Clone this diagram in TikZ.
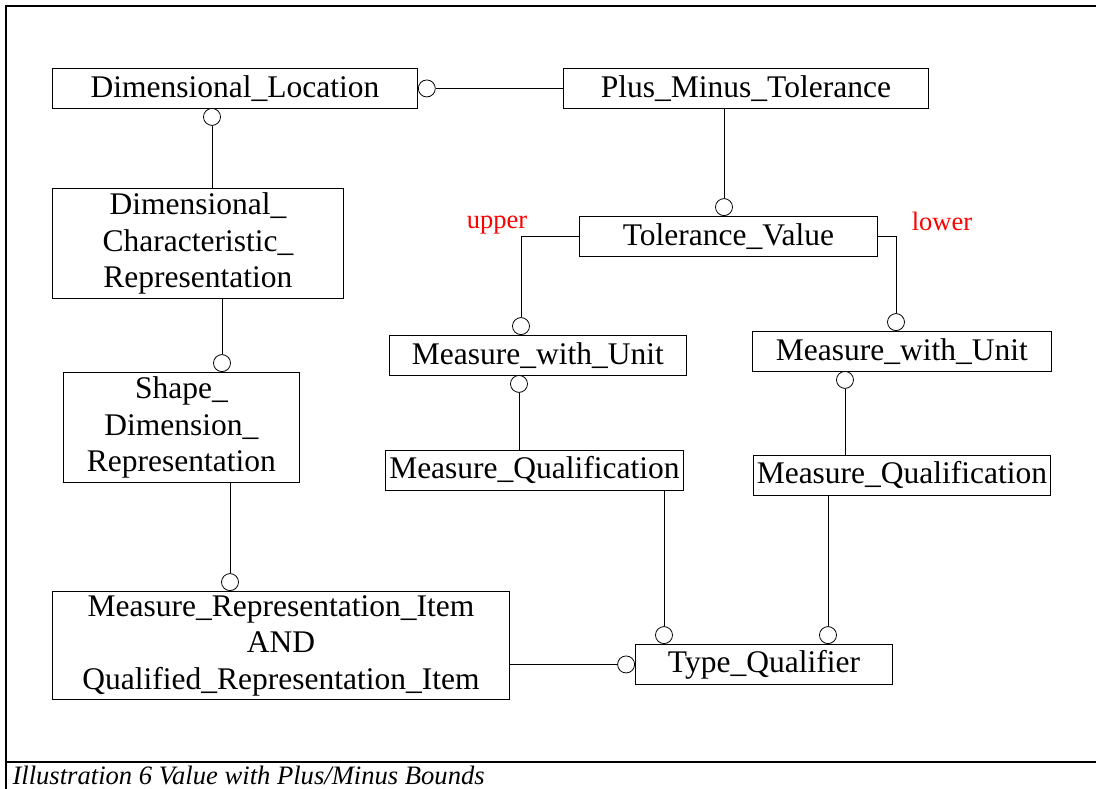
\documentclass[tikz,border=0pt]{standalone}
\usepackage{fontspec}
\setmainfont{Liberation Serif}
\tikzset{ent/.style={draw, line width=0.9pt, inner sep=0pt, anchor=north west, align=center,
    font=\fontsize{31.5}{36.5}\selectfont},
  ring/.style={draw, circle, line width=0.8pt, minimum size=17pt, inner sep=0pt, fill=white},
  lnk/.style={line width=0.8pt},
  role/.style={text=red, anchor=base, font=\fontsize{26.5}{30}\selectfont}}

\begin{document}
\begin{tikzpicture}[x=1pt, y=-1pt]
\useasboundingbox (0,0) rectangle (1096,789);
\draw[line width=1.4pt] (6,789) -- (6,6) -- (1096,6);
\draw[line width=1.4pt] (6,762) -- (1096,762);
\node[anchor=base west, font=\fontsize{26.6}{30}\selectfont\itshape] (cap) at (9,784) {Illustration 6 Value with Plus/Minus Bounds};

\node[ent, minimum width=365pt, minimum height=40pt] (dl) at (52,68) {Dimensional\_Location};
\node[ent, minimum width=365pt, minimum height=40pt] (pmt) at (563,68) {Plus\_Minus\_Tolerance};
\node[ent, minimum width=291pt, minimum height=110pt] (dcr) at (52,188) {Dimensional\_\\Characteristic\_\\Representation};
\node[ent, minimum width=236pt, minimum height=110pt] (sdr) at (63,372) {Shape\_\\Dimension\_\\Representation};
\node[ent, minimum width=457pt, minimum height=108pt] (mri) at (52,591) {Measure\_Representation\_Item\\AND\\Qualified\_Representation\_Item};
\node[ent, minimum width=298pt, minimum height=40pt] (tv) at (579,216) {Tolerance\_Value};
\node[ent, minimum width=297pt, minimum height=40pt] (mwul) at (389,335) {Measure\_with\_Unit};
\node[ent, minimum width=299pt, minimum height=40pt] (mwur) at (752,331) {Measure\_with\_Unit};
\node[ent, minimum width=298pt, minimum height=40pt] (mql) at (385,450) {Measure\_Qualification};
\node[ent, minimum width=297pt, minimum height=40pt] (mqr) at (753,455) {Measure\_Qualification};
\node[ent, minimum width=257pt, minimum height=40pt] (tq) at (635,644) {Type\_Qualifier};

\node[role] (up) at (497,229) {upper};
\node[role] (low) at (942,230) {lower};

\node[ring, anchor=west] (c1) at (dl.east) {};
\node[ring, anchor=north] (c2) at (212,108) {};
\node[ring, anchor=south] (c3) at (222,372) {};
\node[ring, anchor=south] (c4) at (230,591) {};
\node[ring, anchor=south] (c5) at (724,216) {};
\node[ring, anchor=south] (c6) at (521,335) {};
\node[ring, anchor=south] (c7) at (896,331) {};
\node[ring, anchor=north] (c8) at (519,375) {};
\node[ring, anchor=north] (c9) at (845,371) {};
\node[ring, anchor=east] (c10) at (tq.west) {};
\node[ring, anchor=south] (c11) at (664,644) {};
\node[ring, anchor=south] (c12) at (828,644) {};

\draw[lnk] (c1) -- (pmt.west);
\draw[lnk] (c2) -- (c2 |- dcr.north);
\draw[lnk] (c3 |- dcr.south) -- (c3);
\draw[lnk] (c4 |- sdr.south) -- (c4);
\draw[lnk] (c5 |- pmt.south) -- (c5);
\draw[lnk] (tv.west) -| (c6);
\draw[lnk] (tv.east) -| (c7);
\draw[lnk] (c8) -- (c8 |- mql.north);
\draw[lnk] (c9) -- (c9 |- mqr.north);
\draw[lnk] (c11 |- mql.south) -- (c11);
\draw[lnk] (c12 |- mqr.south) -- (c12);
\draw[lnk] (c10 -| mri.east) -- (c10);
\end{tikzpicture}
\end{document}
